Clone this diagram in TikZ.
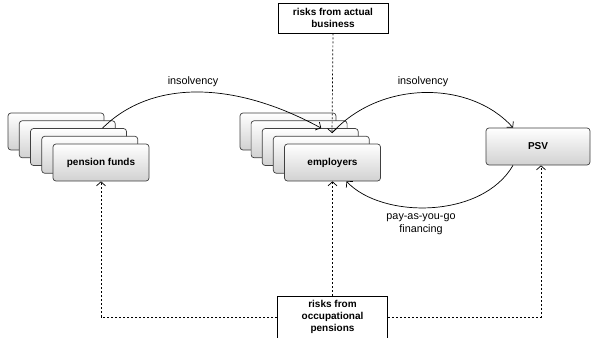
\documentclass[tikz,border=0pt]{standalone}
\usepackage{fontspec}
\setmainfont{Liberation Sans}
\usetikzlibrary{arrows.meta}

\tikzset{
  stackbox/.style={draw=black!75, line width=0.7pt, rounded corners=3pt,
    top color=white, bottom color=black!18, minimum width=96pt,
    minimum height=37pt, font=\bfseries},
  riskbox/.style={draw=black, line width=0.8pt, fill=white, align=center,
    minimum width=110pt, font=\bfseries, inner sep=2pt},
  lbl/.style={align=center},
  flow/.style={line width=0.7pt, -{Straight Barb[length=4pt,width=9pt]}},
  risk/.style={line width=0.7pt, dash pattern=on 2pt off 2pt,
    -{Straight Barb[length=4pt,width=9pt]}}
}

\begin{document}
\begin{tikzpicture}[x=1pt, y=-1pt, font=\fontsize{10.8}{13.5}\selectfont]
	\useasboundingbox (0,0) rectangle (593,337);

	% pension funds stack
	\foreach \i in {1,...,4}
		\node[stackbox] (pf\i) at ({56+11.25*(\i-1)}, {131.5+7.75*(\i-1)}) {};
	\node[stackbox] (pf5) at (101, 162.5) {pension funds};

	% employers stack
	\foreach \i in {1,...,4}
		\node[stackbox] (emp\i) at ({288+11.1*(\i-1)}, {131.5+7.75*(\i-1)}) {};
	\node[stackbox] (emp5) at (332.5, 162.5) {employers};

	\node[stackbox, minimum width=104pt] (psv) at (538, 146.5) {PSV};

	% risk boxes
	\node[riskbox, minimum height=30pt] (ra) at (333, 18) {risks from actual\\business};
	\node[riskbox, minimum height=42pt] (ro) at (332.5, 317) {risks from\\occupational\\pensions};

	\coordinate (rin) at (332, 133);

	% money flows
	\draw[flow] ([xshift=24pt]pf3.north) .. controls (151,80) and (233,80) .. ([xshift=11pt]emp3.north);
	\draw[flow] (rin) .. controls (380,80) and (470,80) .. ([xshift=-25pt]psv.north);
	\draw[flow] ([xshift=-25pt]psv.south) .. controls (482,219) and (382,219) .. ([xshift=14pt]emp5.south);

	\node[lbl] (ins1) at (193, 82) {insolvency};
	\node[lbl] (ins2) at (423, 82) {insolvency};
	\node[lbl] (payg) at (421, 224) {pay-as-you-go\\financing};

	% risks
	\draw[risk] (ra.south) -- (rin);
	\draw[risk] (ro.north) -- (emp5.south);
	\draw[risk] (ro.west) -| (pf5.south);
	\draw[risk] (ro.east) -| ([xshift=3pt]psv.south);
\end{tikzpicture}
\end{document}
